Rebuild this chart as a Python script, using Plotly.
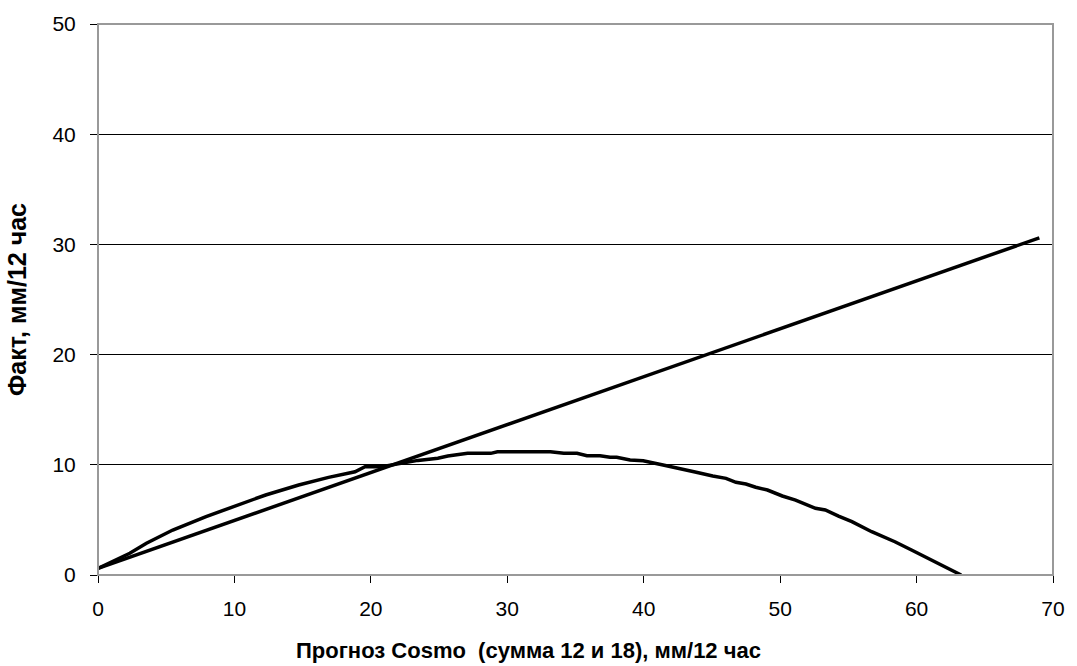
import plotly.graph_objects as go

# Linear fit line
line_x = [0, 69]
line_y = [0.6, 30.6]

# Curve
curve_x = [0, 1.0, 2.33, 3.55, 5.48, 7.92, 10.58, 12.29, 14.71, 16.9, 18.84, 19.57, 20.78,
           23.45, 24.91, 25.64, 27.09, 28.79, 29.28, 33.16, 34.14, 35.11, 35.84, 36.8, 37.53,
           38.02, 39.0, 39.96, 41.42, 42.63, 43.85, 45.06, 46.03, 46.76, 47.49, 48.21, 49.07,
           50.16, 51.13, 52.59, 53.31, 54.28, 55.26, 56.71, 58.41, 59.63, 60.36, 60.84, 62.05, 63.27]
curve_y = [0.6, 1.2, 1.97, 2.88, 4.08, 5.3, 6.5, 7.26, 8.17, 8.86, 9.37, 9.83, 9.83,
           10.4, 10.6, 10.8, 11.04, 11.04, 11.19, 11.19, 11.04, 11.04, 10.83, 10.83, 10.68,
           10.68, 10.44, 10.37, 9.98, 9.62, 9.32, 8.98, 8.77, 8.41, 8.26, 7.96, 7.71,
           7.17, 6.8, 6.05, 5.9, 5.35, 4.84, 3.93, 3.02, 2.27, 1.81, 1.57, 0.82, 0.0]

x_title = "Прогноз Cosmo  (сумма 12 и 18), мм/12 час"
y_title = "Факт, мм/12 час"

fig = go.Figure()
fig.add_trace(go.Scatter(x=line_x, y=line_y, mode="lines",
                         line=dict(color="black", width=3.5), showlegend=False))
fig.add_trace(go.Scatter(x=curve_x, y=curve_y, mode="lines",
                         line=dict(color="black", width=3.5), showlegend=False))

font = "Liberation Sans, Arial, sans-serif"
fig.update_layout(
    width=1077, height=666,
    margin=dict(l=98, r=18, t=24, b=91),
    paper_bgcolor="white", plot_bgcolor="white",
    font=dict(family=font, size=21, color="black"),
    xaxis=dict(range=[0, 70], dtick=10, tick0=0, showgrid=False, zeroline=False,
               showline=True, linecolor="black", linewidth=1,
               ticks="outside", ticklen=7, tickcolor="black", ticklabelstandoff=8,
               tickfont=dict(size=21, family=font)),
    yaxis=dict(range=[0, 50], dtick=10, tick0=0, showgrid=True, gridcolor="black", gridwidth=1,
               zeroline=False, showline=True, linecolor="black", linewidth=1,
               ticks="outside", ticklen=7, tickcolor="black", ticklabelstandoff=10,
               tickfont=dict(size=21, family=font),
               title=dict(text="<b>" + y_title + "</b>", font=dict(size=25, family=font), standoff=18)),
    shapes=[dict(type="rect", xref="paper", yref="paper", x0=0, x1=1, y0=0, y1=1,
                 line=dict(color="#999999", width=2), layer="above")],
    annotations=[dict(text="<b>" + x_title + "</b>", xref="paper", yref="paper",
                      x=0.4506, y=-0.137, xanchor="center", yanchor="middle",
                      showarrow=False, font=dict(size=22, family=font, color="black"))],
)

fig.write_html("out.html", config={"displayModeBar": False})

with open("out.html", "r", encoding="utf-8") as f:
    html = f.read()
html = html.replace("<head>", "<head><style>html,body{margin:0;padding:0;overflow:hidden;}</style>", 1)
with open("out.html", "w", encoding="utf-8") as f:
    f.write(html)
